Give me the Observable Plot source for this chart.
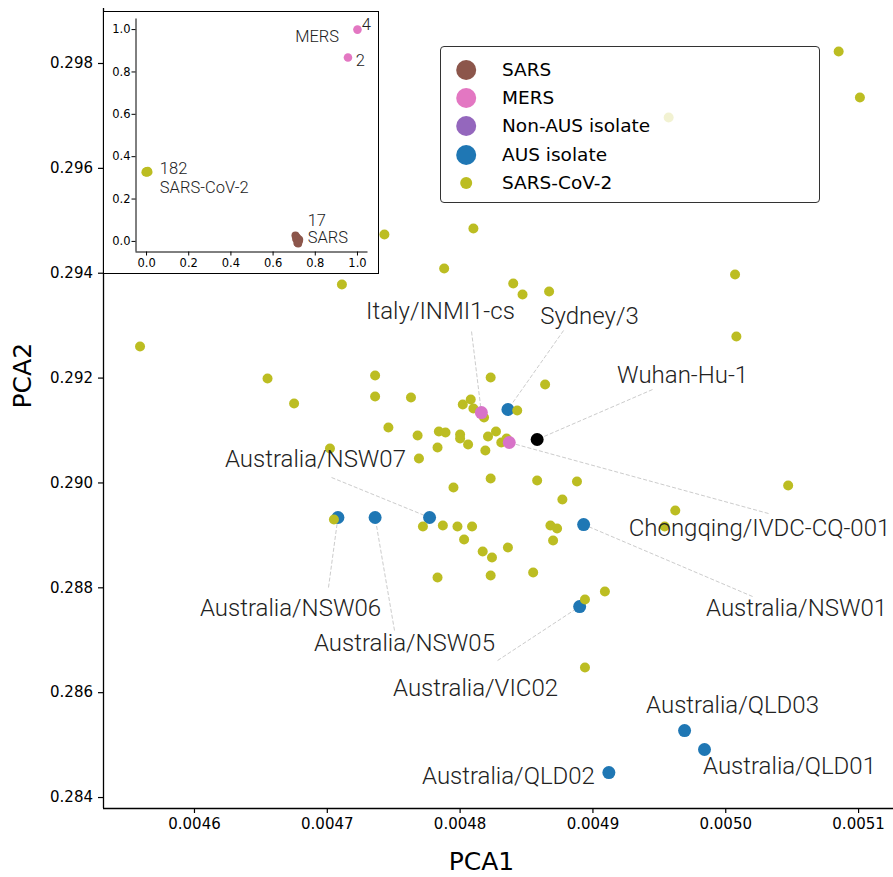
<!DOCTYPE html>
<html><head><meta charset="utf-8">
<script src="https://cdn.jsdelivr.net/npm/d3@7"></script>
<script src="https://cdn.jsdelivr.net/npm/@observablehq/plot@0.6"></script>
<style>
body{margin:0;background:#fff;}
#wrap{position:relative;width:893px;height:877px;overflow:hidden;background:#fff;}
#main{position:absolute;left:0;top:0;}
#inset{position:absolute;left:103px;top:11px;width:276px;height:263px;border:1.5px solid #000;box-sizing:border-box;background:#fff;}
#legend{position:absolute;left:440px;top:46px;width:380px;height:157px;box-sizing:border-box;border:1.5px solid #333;border-radius:4px;background:rgba(255,255,255,0.8);font-family:"DejaVu Sans";font-size:18.5px;color:#000;}
.row{position:absolute;left:0;height:28px;display:flex;align-items:center;}
.row svg{position:absolute;left:0;top:0;}
.row span{position:absolute;left:61px;white-space:nowrap;line-height:28px;top:0;}
</style></head><body><div id="wrap"><div id="main"></div><div id="inset"></div><div id="legend"></div></div>
<script>
// ---- main panel data (SARS-CoV-2 genomes) ----
const covX = [0.005085,0.005101,0.004957,0.004743,0.004810,0.004788,0.004711,0.004840,0.004847,0.004867,
  0.005007,0.005008,0.004559,0.004655,0.004675,0.004736,0.004736,0.004763,0.004823,0.004864,
  0.004808,0.004802,0.004810,0.004818,0.004843,0.004746,0.004768,0.004784,0.004789,0.004800,
  0.004800,0.004806,0.004783,0.004769,0.004821,0.004827,0.004831,0.004835,0.004819,0.004823,
  0.004858,0.004888,0.004702,0.004795,0.004877,0.004705,0.004772,0.004787,0.004798,0.004809,
  0.004803,0.004817,0.004824,0.004836,0.004783,0.004823,0.004855,0.004868,0.004873,0.004870,
  0.004894,0.004909,0.004894,0.004962,0.004954,0.005047];
const covY = [0.298229,0.297352,0.296970,0.294739,0.294853,0.294090,0.293785,0.293804,0.293594,0.293651,
  0.293976,0.292793,0.292602,0.291992,0.291515,0.292049,0.291649,0.291630,0.292011,0.291878,
  0.291591,0.291496,0.291420,0.291248,0.291382,0.291057,0.290905,0.290981,0.290962,0.290924,
  0.290848,0.290733,0.290676,0.290466,0.290886,0.290981,0.290771,0.290848,0.290619,0.290085,
  0.290047,0.290028,0.290657,0.289913,0.289684,0.289303,0.289169,0.289188,0.289169,0.289169,
  0.288921,0.288692,0.288578,0.288769,0.288196,0.288235,0.288292,0.289188,0.289131,0.288902,
  0.287777,0.287930,0.286480,0.289474,0.289169,0.289951];

const ausNames = ["Australia/NSW06","Australia/NSW05","Australia/NSW07","Australia/NSW01","Australia/VIC02","Sydney/3","Australia/QLD03","Australia/QLD01","Australia/QLD02"];
const ausX = [0.004708,0.004736,0.004777,0.004893,0.004890,0.004836,0.004969,0.004984,0.004912];
const ausY = [0.289341,0.289341,0.289341,0.289207,0.287643,0.291401,0.285278,0.284916,0.284477];

const nonAusNames = ["Italy/INMI1-cs","Chongqing/IVDC-CQ-001"];
const nonAusX = [0.004816,0.004837];
const nonAusY = [0.291343,0.290771];

const refNames = ["Wuhan-Hu-1"];
const refX = [0.004858];
const refY = [0.290829];

const xTicks = [0.0046,0.0047,0.0048,0.0049,0.0050,0.0051];
const yTicks = [0.284,0.286,0.288,0.290,0.292,0.294,0.296,0.298];

// label placement (annotation text anchor and leader-line start, data units)
const labelNames = ["Italy/INMI1-cs","Sydney/3","Wuhan-Hu-1","Australia/NSW07","Chongqing/IVDC-CQ-001","Australia/NSW01","Australia/NSW06","Australia/NSW05","Australia/VIC02","Australia/QLD03","Australia/QLD01","Australia/QLD02"];
const labelTextX = [0.0047852,0.0048974,0.0049675,0.0046911,0.0050254,0.0050533,0.0046723,0.0047581,0.0048116,0.0050051,0.0050480,0.0048364];
const labelTextY = [0.293270,0.293175,0.292049,0.290447,0.289131,0.287605,0.287605,0.286938,0.286079,0.285755,0.284592,0.284401];
const lineStartX = [0.0048086,0.0048779,0.0049449,0.0047032,0.0050322,0.0050202,0.0047009,0.0047506,0.0048282,null,null,null];
const lineStartY = [0.292888,0.292908,0.291782,0.290104,0.289417,0.287834,0.288006,0.287186,0.286613,null,null,null];

// ---- inset data (normalised PCA of all genomes) ----
const insetSarsX = [0.706,0.712,0.718,0.722,0.715,0.709,0.724,0.719];
const insetSarsY = [0.028,0.020,0.012,0.002,-0.006,0.012,0.008,-0.010];
const insetMersX = [1.0,0.955];
const insetMersY = [1.0,0.868];
const insetCovX = [-0.004,0.000,0.004,0.008,0.002,0.006];
const insetCovY = [0.327,0.331,0.329,0.328,0.326,0.332];
const insetLabelText = ["4","2","MERS","182","SARS-CoV-2","17","SARS"];
const insetLabelX = [1.020,0.992,0.809,0.063,0.063,0.764,0.764];
const insetLabelY = [1.025,0.855,0.968,0.341,0.253,0.100,0.019];
const insetLabelAnchor = ["start","start","middle","start","start","start","start"];

const insetTicks = [0,0.2,0.4,0.6,0.8,1.0];

const legendLabels = ["SARS","MERS","Non-AUS isolate","AUS isolate","SARS-CoV-2"];
const legendColors = ["#8c564b","#e377c2","#9467bd","#1f77b4","#bcbd22"];

// ---- build tables ----
const cov = covX.map((x,i)=>({x, y: covY[i]}));
const aus = ausNames.map((n,i)=>({name:n, x: ausX[i], y: ausY[i]}));
const nonAus = nonAusNames.map((n,i)=>({name:n, x: nonAusX[i], y: nonAusY[i]}));
const ref = refNames.map((n,i)=>({name:n, x: refX[i], y: refY[i]}));
const lookup = new Map([...aus,...nonAus,...ref].map(d=>[d.name,d]));
const labels = labelNames.map((n,i)=>({name:n, tx: labelTextX[i], ty: labelTextY[i], lx: lineStartX[i], ly: lineStartY[i], px: lookup.get(n).x, py: lookup.get(n).y}));
const links = labels.filter(d=>d.lx!=null);

const main = Plot.plot({
  width: 893, height: 877,
  marginLeft: 103, marginRight: 0, marginTop: 8, marginBottom: 69,
  x: {domain: [0.0045315, 0.0051263]},
  y: {domain: [0.283791, 0.299049]},
  style: {fontFamily: "DejaVu Sans", background: "transparent", color: "#000"},
  marks: [
    Plot.axisY(yTicks, {tickFormat: d3.format(".3f"), tickSize: 5, tickPadding: 5.5, fontSize: 15, label: null, strokeWidth: 1.2}),
    Plot.axisX(xTicks, {tickFormat: d3.format(".4f"), tickSize: 5, tickPadding: 5, fontSize: 15, label: null, strokeWidth: 1.2}),
    Plot.ruleX([0.0045315], {stroke: "#000", strokeWidth: 1.3}),
    Plot.ruleY([0.283791], {stroke: "#000", strokeWidth: 1.3}),
    Plot.link(links, {x1: "lx", y1: "ly", x2: "px", y2: "py", stroke: "#cccccc", strokeWidth: 1, strokeDasharray: "4,2"}),
    Plot.dot(aus, {x: "x", y: "y", r: 6.5, fill: "#1f77b4"}),
    Plot.dot(cov, {x: "x", y: "y", r: 5, fill: "#bcbd22"}),
    Plot.dot(nonAus, {x: "x", y: "y", r: 6.5, fill: "#d873c8"}),
    Plot.dot(ref, {x: "x", y: "y", r: 6.5, fill: "#000"}),
    Plot.text(labels, {x: "tx", y: "ty", text: "name", fontSize: 24, fontFamily: "Roboto", fontWeight: 300, fill: "#222"}),
    Plot.text(["PCA1"], {frameAnchor: "bottom", dx: -17, dy: 61, fontSize: 25, fill: "#000"}),
    Plot.text(["PCA2"], {frameAnchor: "left", dx: -81, dy: 0, rotate: -90, fontSize: 25, fill: "#000"})
  ]
});
document.getElementById("main").appendChild(main);

// inset
const insetSars = insetSarsX.map((x,i)=>({x, y: insetSarsY[i]}));
const insetMers = insetMersX.map((x,i)=>({x, y: insetMersY[i]}));
const insetCov = insetCovX.map((x,i)=>({x, y: insetCovY[i]}));
const insetLabels = insetLabelText.map((t,i)=>({t, x: insetLabelX[i], y: insetLabelY[i], a: insetLabelAnchor[i]}));
const inset = Plot.plot({
  width: 273, height: 260,
  marginLeft: 31.5, marginTop: 6.5, marginRight: 9.5, marginBottom: 20.5,
  x: {domain: [-0.05, 1.05]},
  y: {domain: [-0.05, 1.05]},
  style: {fontFamily: "DejaVu Sans", background: "transparent", color: "#000"},
  marks: [
    Plot.axisY(insetTicks, {tickFormat: d3.format(".1f"), tickSize: 4, tickPadding: 1.5, fontSize: 11.5, label: null}),
    Plot.axisX(insetTicks, {tickFormat: d3.format(".1f"), tickSize: 4, tickPadding: 2.5, fontSize: 11.5, label: null}),
    Plot.ruleX([-0.05], {stroke: "#000", strokeWidth: 1}),
    Plot.ruleY([-0.05], {stroke: "#000", strokeWidth: 1}),
    Plot.dot(insetSars, {x: "x", y: "y", r: 4, fill: "#8c564b"}),
    Plot.dot(insetMers, {x: "x", y: "y", r: 4.3, fill: "#e377c2"}),
    Plot.dot(insetCov, {x: "x", y: "y", r: 4.3, fill: "#bcbd22"}),
    Plot.text(insetLabels.filter(d=>d.a==="start"), {x: "x", y: "y", text: "t", textAnchor: "start", fontSize: 16.5, fontFamily: "Roboto", fontWeight: 300, fill: "#222"}),
    Plot.text(insetLabels.filter(d=>d.a==="middle"), {x: "x", y: "y", text: "t", textAnchor: "middle", fontSize: 16.5, fontFamily: "Roboto", fontWeight: 300, fill: "#222"})
  ]
});
document.getElementById("inset").appendChild(inset);

// legend
const legend = document.getElementById("legend");
const rowY = [22.5, 50.8, 79.2, 107.5, 135.8];
legendLabels.forEach((lab, i) => {
  const row = document.createElement("div");
  row.className = "row";
  row.style.top = (rowY[i] - 14) + "px";
  const r = i < 4 ? 10 : 6;
  row.innerHTML = `<svg width="50" height="28"><circle cx="25.2" cy="14" r="${r}" fill="${legendColors[i]}"/></svg><span>${lab}</span>`;
  legend.appendChild(row);
});
</script>
</body></html>
